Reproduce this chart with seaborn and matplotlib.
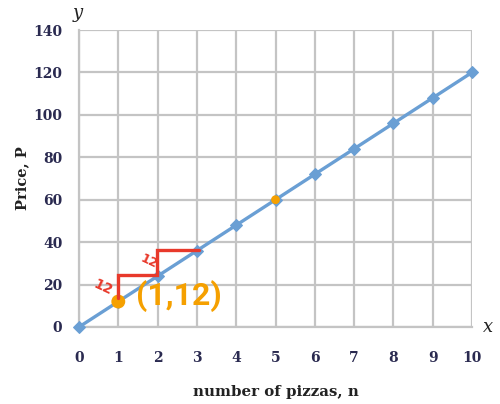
import matplotlib
matplotlib.use("Agg")
import matplotlib.pyplot as plt
import seaborn as sns
import pandas as pd

# data
pizzas = [0, 1, 2, 3, 4, 5, 6, 7, 8, 9, 10]
price = [0, 12, 24, 36, 48, 60, 72, 84, 96, 108, 120]
highlight_n = [1, 5]
highlight_p = [12, 60]
x_ticks = [0, 1, 2, 3, 4, 5, 6, 7, 8, 9, 10]
y_ticks = [0, 20, 40, 60, 80, 100, 120, 140]
step_x = [1.0, 1.0, 1.98, 1.98, 3.05]
step_y = [13.5, 24.5, 24.5, 36.5, 36.5]

sns.set_theme(style="white")
plt.rcParams['font.family'] = ['DejaVu Serif']

df = pd.DataFrame({"n": pizzas, "P": price})
hl = pd.DataFrame({"n": highlight_n, "P": highlight_p})

fig = plt.figure(figsize=(5.0, 4.04), dpi=100)
ax = fig.add_axes([0.158, 0.1906, 0.786, 0.7351])

line_c = "#6a9fd4"
sns.lineplot(data=df, x="n", y="P", ax=ax, color=line_c, linewidth=2.4,
             marker="D", markersize=6.5, markeredgecolor=line_c, zorder=3,
             clip_on=False)
sns.scatterplot(data=hl, x="n", y="P", ax=ax, color="#f5a000", s=[100, 40],
                edgecolor="none", zorder=4, clip_on=False)

ax.set_xlim(0, 10)
ax.set_ylim(0, 140)
ax.set_xticks(x_ticks)
ax.set_yticks(y_ticks)
ax.grid(True, color="#c4c4c4", linewidth=1.6)
ax.set_axisbelow(True)
for s in ["top", "right"]:
    ax.spines[s].set_visible(False)
for s in ["left", "bottom"]:
    ax.spines[s].set_color("#c4c4c4")
    ax.spines[s].set_linewidth(1.6)
ax.tick_params(axis="both", direction="out", length=4, width=1.2,
               color="#b0b0b0", labelsize=10, labelcolor="#2a2a50")
ax.tick_params(axis="x", pad=13)
ax.tick_params(axis="y", pad=8)
for lbl in ax.get_xticklabels() + ax.get_yticklabels():
    lbl.set_fontweight("bold")

ax.set_xlabel("number of pizzas, n", fontsize=10.8, fontweight="bold",
              color="#222222", labelpad=15)
ax.set_ylabel("Price, P", fontsize=10.5, fontweight="bold", color="#222222",
              labelpad=3)

# axis letters
fig.text(0.155, 0.968, "y", fontsize=13, style="italic", ha="center",
         va="center", color="#222222")
fig.text(0.976, 0.19, "x", fontsize=13, style="italic", ha="center",
         va="center", color="#222222")

# red handwritten steps
ax.plot(step_x, step_y, color="#e8392b", linewidth=2.4, zorder=5,
        solid_joinstyle="miter")
ax.text(0.62, 18.5, "12", color="#e8392b", fontsize=10, fontweight="bold",
        family="DejaVu Sans", rotation=-25, ha="center", va="center")
ax.text(1.78, 31, "12", color="#e8392b", fontsize=9, fontweight="bold",
        family="DejaVu Sans", rotation=-25, ha="center", va="center")
ax.text(2.55, 14.5, "(1,12)", color="#f5a000", fontsize=23,
        fontweight="bold", family=["Roboto", "DejaVu Sans"],
        ha="center", va="center")

fig.savefig("out.png", dpi=100)
